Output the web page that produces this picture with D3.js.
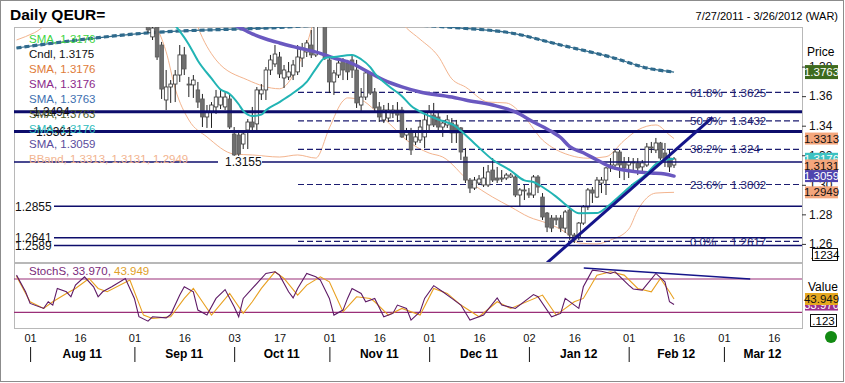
<!DOCTYPE html>
<html>
<head>
<meta charset="utf-8">
<script src="https://cdn.jsdelivr.net/npm/d3@7"></script>
<style>
  body { margin: 0; background: #fff; }
  text { font-family: 'Liberation Sans', Arial, sans-serif; }
</style>
</head>
<body>
<svg id="chart" width="845" height="383"></svg>
<script>
// ---- data ----
const rangeStart = '2011-07-27';
const rangeEnd = '2012-03-26';

const candleStart = '2011-09-06'; // first candle that shows inside the price panel
const opens = [1.4116,1.4001,1.4068,1.3946,1.3574,1.3662,1.3682,1.3743,1.3879,1.3682,1.3676,1.3642,1.3581,1.3459,1.3493,1.3527,1.3540,1.3527,1.3581,1.3344,1.3337,1.3276,1.3371,1.3425,1.3412,1.3615,1.3642,1.3777,1.3818,1.3865,1.3723,1.3730,1.3743,1.3764,1.3858,1.3899,1.3946,1.3879,1.4150,1.4120,1.3845,1.3696,1.3743,1.3845,1.3824,1.3845,1.3777,1.3540,1.3594,1.3757,1.3628,1.3527,1.3439,1.3452,1.3486,1.3506,1.3506,1.3337,1.3357,1.3290,1.3303,1.3324,1.3405,1.3472,1.3459,1.3391,1.3405,1.3418,1.3405,1.3385,1.3188,1.3032,1.2978,1.3012,1.2999,1.2999,1.3100,1.3046,1.3039,1.3046,1.3053,1.3053,1.2931,1.2965,1.2944,1.2931,1.3053,1.2917,1.2809,1.2775,1.2775,1.2775,1.2707,1.2829,1.2660,1.2647,1.2741,1.2850,1.2965,1.2917,1.3012,1.3032,1.3114,1.3134,1.3222,1.3154,1.3134,1.3154,1.3148,1.3121,1.3134,1.3256,1.3236,1.3283,1.3215,1.3181,1.3134];
const highs = [1.4170,1.4102,1.4116,1.3967,1.3777,1.3709,1.3777,1.3946,1.3933,1.3730,1.3743,1.3696,1.3615,1.3540,1.3560,1.3642,1.3648,1.3628,1.3615,1.3391,1.3371,1.3371,1.3445,1.3527,1.3662,1.3682,1.3797,1.3879,1.3946,1.3899,1.3811,1.3831,1.3845,1.3946,1.3960,1.3980,1.4048,1.4190,1.4220,1.4160,1.3865,1.3777,1.3845,1.3858,1.3845,1.3879,1.3845,1.3655,1.3777,1.3764,1.3655,1.3560,1.3540,1.3554,1.3540,1.3560,1.3527,1.3385,1.3385,1.3371,1.3439,1.3493,1.3540,1.3554,1.3486,1.3439,1.3472,1.3452,1.3439,1.3391,1.3249,1.3046,1.3053,1.3066,1.3121,1.3134,1.3181,1.3121,1.3100,1.3080,1.3080,1.3066,1.2978,1.2999,1.2978,1.3066,1.3066,1.2944,1.2816,1.2795,1.2795,1.2795,1.2829,1.2843,1.2674,1.2748,1.2863,1.2978,1.2985,1.3053,1.3053,1.3121,1.3181,1.3236,1.3236,1.3188,1.3188,1.3181,1.3181,1.3168,1.3283,1.3290,1.3317,1.3290,1.3283,1.3236,1.3188];
const lows = [1.4028,1.3980,1.3845,1.3581,1.3506,1.3554,1.3560,1.3696,1.3743,1.3594,1.3588,1.3520,1.3391,1.3385,1.3385,1.3479,1.3513,1.3506,1.3378,1.3154,1.3168,1.3242,1.3242,1.3371,1.3371,1.3574,1.3574,1.3743,1.3797,1.3723,1.3655,1.3709,1.3709,1.3743,1.3797,1.3865,1.3858,1.3865,1.4080,1.3845,1.3621,1.3608,1.3723,1.3709,1.3709,1.3723,1.3520,1.3486,1.3574,1.3608,1.3493,1.3425,1.3418,1.3425,1.3452,1.3425,1.3317,1.3303,1.3202,1.3269,1.3283,1.3249,1.3357,1.3391,1.3357,1.3324,1.3385,1.3283,1.3283,1.3168,1.3012,1.2944,1.2965,1.2999,1.2985,1.2985,1.3019,1.3012,1.3019,1.3032,1.3046,1.2917,1.2850,1.2897,1.2911,1.2911,1.2944,1.2762,1.2680,1.2680,1.2728,1.2680,1.2674,1.2626,1.2606,1.2626,1.2728,1.2829,1.2877,1.2911,1.2944,1.2931,1.3087,1.3100,1.3046,1.3032,1.3046,1.3087,1.3066,1.3087,1.3121,1.3215,1.3215,1.3168,1.3121,1.3087,1.3114];
const closes = [1.4048,1.4061,1.3865,1.3648,1.3662,1.3682,1.3743,1.3879,1.3784,1.3676,1.3709,1.3560,1.3459,1.3493,1.3540,1.3594,1.3594,1.3594,1.3391,1.3202,1.3208,1.3344,1.3425,1.3391,1.3642,1.3642,1.3777,1.3845,1.3885,1.3750,1.3777,1.3764,1.3811,1.3865,1.3926,1.3960,1.3879,1.4150,1.4140,1.3858,1.3696,1.3757,1.3824,1.3777,1.3764,1.3777,1.3554,1.3594,1.3757,1.3621,1.3520,1.3459,1.3506,1.3506,1.3506,1.3472,1.3324,1.3357,1.3236,1.3324,1.3391,1.3439,1.3493,1.3405,1.3391,1.3418,1.3439,1.3351,1.3351,1.3222,1.3032,1.2978,1.3032,1.3039,1.3046,1.3087,1.3032,1.3032,1.3046,1.3066,1.3066,1.2931,1.2965,1.2958,1.2931,1.3053,1.2985,1.2782,1.2714,1.2707,1.2762,1.2707,1.2816,1.2660,1.2626,1.2741,1.2850,1.2965,1.2944,1.3032,1.3032,1.3114,1.3134,1.3222,1.3134,1.3114,1.3154,1.3148,1.3114,1.3148,1.3256,1.3249,1.3283,1.3181,1.3168,1.3121,1.3175];

// moving averages, read at trading-day offsets from rangeStart
const smaFastDay = [30,33,36,38,40,43,45,47,49,50,52,54,55,58,61,64,66,68,70,74,76,78,79,82,85,87,90,93,97,98,101,105,109,112,114,116,119,122,124,128,130,133,136,139,141,143,145];
const smaFastVal = [1.4300,1.4150,1.4040,1.3950,1.3840,1.3720,1.3645,1.3615,1.3545,1.3500,1.3466,1.3475,1.3505,1.3560,1.3621,1.3696,1.3785,1.3858,1.3865,1.3879,1.3850,1.3797,1.3755,1.3670,1.3600,1.3535,1.3480,1.3442,1.3392,1.3365,1.3280,1.3170,1.3095,1.3030,1.3019,1.2985,1.2920,1.2843,1.2808,1.2809,1.2845,1.2925,1.3005,1.3075,1.3140,1.3168,1.3176];
const smaMidDay = [44,49,52,55,58,62,67,70,73,78,81,85,89,96,99,105,110,114,118,120,122,125,128,131,134,137,140,143,145];
const smaMidVal = [1.4150,1.4068,1.4021,1.3987,1.3960,1.3928,1.3890,1.3858,1.3833,1.3757,1.3709,1.3663,1.3628,1.3594,1.3574,1.3540,1.3493,1.3425,1.3360,1.3320,1.3258,1.3217,1.3168,1.3122,1.3100,1.3087,1.3080,1.3073,1.3059];
const smaLongDay = [0,29,55,77,98,109,120,131,140,145];
const smaLongVal = [1.3926,1.4028,1.4061,1.4090,1.4061,1.4028,1.3946,1.3865,1.3784,1.3763];
const bbUpperDay = [38,40,44,51,58,62,64,66,70,80,86,89,93,96,99,104,108,112,116,118,122,126,130,134,137,141,144,145];
const bbUpperVal = [1.4250,1.4068,1.3845,1.3709,1.3650,1.3800,1.3950,1.4150,1.4350,1.4300,1.4061,1.3985,1.3870,1.3717,1.3662,1.3560,1.3554,1.3459,1.3303,1.3256,1.3200,1.3180,1.3190,1.3300,1.3371,1.3405,1.3337,1.3313];
const bbLowerDay = [0,4,8,30,33,35,38,42,48,52,58,62,66,69,72,73,76,79,83,86,91,94,100,105,109,113,117,121,124,128,131,135,137,141,145];
const bbLowerVal = [1.3980,1.4030,1.4100,1.4080,1.3900,1.3650,1.3439,1.3324,1.3208,1.3202,1.3188,1.3202,1.3181,1.3385,1.3568,1.3588,1.3574,1.3506,1.3391,1.3303,1.3215,1.3188,1.3019,1.2917,1.2850,1.2782,1.2740,1.2680,1.2606,1.2600,1.2626,1.2700,1.2829,1.2944,1.2949];

// support / resistance and fibonacci levels
const levels = [1.3494, 1.3361, 1.3155, 1.2855, 1.2641, 1.2589];
const fibPct = ['61.8%', '50.0%', '38.2%', '23.6%', '0.0%'];
const fibVal = [1.3625, 1.3432, 1.324, 1.3002, 1.2617];
const trendDay = [117, 153.5];
const trendVal = [1.2472, 1.3457];

// slow stochastic
const stochKDay = [0,2,3,6,7,8,9,11,12,13,15,17,18,19,21,24,26,27,29,30,33,34,36,37,39,40,42,44,46,48,49,50,52,55,57,58,60,61,62,64,66,67,69,70,72,73,74,76,77,79,81,83,84,86,87,89,90,92,94,96,98,100,103,106,107,110,114,115,118,120,121,124,125,127,129,131,132,135,136,138,141,143,144,145];
const stochKVal = [87,57,36,27,39,33,63,57,48,69,84,66,48,57,66,81,45,12,4,12,10,16,51,66,57,24,15,45,61,30,12,45,63,90,93,87,57,46,63,90,84,78,45,15,24,45,63,54,39,45,12,18,33,27,6,21,45,68,57,45,33,6,15,46,33,27,52,48,12,18,45,27,66,96,94,90,93,69,62,60,90,75,39,33.97];
const stochDDay = [0,3,6,8,11,13,16,18,20,25,28,30,34,37,39,41,43,47,50,52,54,57,59,62,64,67,69,72,75,78,79,82,85,89,92,95,98,102,106,109,116,119,123,125,128,131,134,137,140,142,144,145];
const stochDVal = [85,39,27,39,54,63,81,63,57,78,15,9,12,45,63,39,15,54,18,39,63,93,81,51,69,84,75,21,48,45,39,15,27,15,63,54,33,12,39,27,51,15,39,45,87,93,87,63,57,81,57,43.949];
const stochBands = [80, 20];
const stochTrendDay = [125.1, 161.8];
const stochTrendVal = [99.8, 80];

// axis labels
const priceTicks = [1.26, 1.28, 1.30, 1.32, 1.34, 1.36, 1.38];
const dayTicks = ['2011-08-01','2011-08-16','2011-09-01','2011-09-16','2011-10-03','2011-10-17','2011-11-01','2011-11-16','2011-12-01','2011-12-16','2012-01-02','2012-01-16','2012-02-01','2012-02-16','2012-03-01','2012-03-16'];
const monthStarts = ['2011-08-01','2011-09-01','2011-10-03','2011-11-01','2011-12-01','2012-01-02','2012-02-01','2012-03-01'];
const monthNames = ['Aug 11','Sep 11','Oct 11','Nov 11','Dec 11','Jan 12','Feb 12','Mar 12'];

const legendText = ['SMA, 1.3176','Cndl, 1.3175','SMA, 1.3176','SMA, 1.3176','SMA, 1.3763','SMA, 1.3763','SMA, 1.3176','SMA, 1.3059','BBand, 1.3313, 1.3131, 1.2949'];
const legendColor = ['#3ed43e','#111','#e07b39','#8b2a8b','#3d6fb0','#4b5a2a','#2fbcbc','#5a4c9c','#f2b48f'];

// ---- setup ----
const parse = d3.timeParse('%Y-%m-%d');
const days = d3.timeDay.range(parse(rangeStart), d3.timeDay.offset(parse(rangeEnd), 1))
  .filter(d => d.getDay() !== 0 && d.getDay() !== 6);
const dayOf = s => { const t = +parse(s); return days.findIndex(d => +d === t); };

const svg = d3.select('#chart');
const P = {l: 14, r: 802, t: 27, b: 262};
const S = {t: 263, b: 328};

const x = d3.scaleLinear().domain([0, days.length - 1]).range([16.5, 801]);
const y = d3.scaleLinear().domain([1.26, 1.34]).range([243.9, 125.7]);
const ys = d3.scaleLinear().domain([0, 100]).range([323.4, 267.9]);

const defs = svg.append('defs');
defs.append('clipPath').attr('id', 'clipP').append('rect')
  .attr('x', P.l).attr('y', P.t).attr('width', P.r - P.l).attr('height', P.b - P.t);
defs.append('clipPath').attr('id', 'clipS').append('rect')
  .attr('x', P.l).attr('y', S.t).attr('width', P.r - P.l).attr('height', S.b - S.t);

// frame + title
svg.append('rect').attr('x', 0.5).attr('y', 0.5).attr('width', 843).attr('height', 381)
  .attr('fill', '#fff').attr('stroke', '#8c8c8c');
svg.append('text').attr('x', 10).attr('y', 20).attr('font-size', 15.5).attr('font-weight', 'bold')
  .text('Daily QEUR=');
svg.append('text').attr('x', 838).attr('y', 20).attr('font-size', 11).attr('text-anchor', 'end')
  .text('7/27/2011 - 3/26/2012 (WAR)');

// panels
svg.append('rect').attr('x', P.l + 0.5).attr('y', P.t + 0.5).attr('width', P.r - P.l).attr('height', P.b - P.t)
  .attr('fill', '#fff').attr('stroke', '#b8b8b8');
svg.append('rect').attr('x', P.l + 0.5).attr('y', S.t + 0.5).attr('width', P.r - P.l).attr('height', S.b - S.t)
  .attr('fill', '#fff').attr('stroke', '#b8b8b8');

const main = svg.append('g').attr('clip-path', 'url(#clipP)');
const pts = (ds, vs) => ds.map((d, i) => [d, vs[i]]);
const smooth = d3.line().x(d => x(d[0])).y(d => y(d[1])).curve(d3.curveMonotoneX);

// bollinger bands
[[bbUpperDay, bbUpperVal], [bbLowerDay, bbLowerVal]].forEach(([ds, vs]) => {
  main.append('path').attr('d', smooth(pts(ds, vs)))
    .attr('fill', 'none').attr('stroke', '#f3b48e').attr('stroke-width', 1);
});

// fibonacci dashed levels
fibVal.forEach(v => {
  main.append('line').attr('x1', 298).attr('x2', P.r).attr('y1', y(v)).attr('y2', y(v))
    .attr('stroke', '#1c1c70').attr('stroke-width', 1.2).attr('stroke-dasharray', '6,3');
});

// long SMA (dashed, thick)
const longPath = smooth(pts(smaLongDay, smaLongVal));
main.append('path').attr('d', longPath).attr('fill', 'none').attr('stroke', '#336e8e').attr('stroke-width', 1.2);
main.append('path').attr('d', longPath).attr('fill', 'none').attr('stroke', '#2f6a8c')
  .attr('stroke-width', 3.2).attr('stroke-dasharray', '5,3');

// candles
const c0 = dayOf(candleStart);
const candles = opens.map((o, i) => ({i: c0 + i, o, h: highs[i], l: lows[i], c: closes[i]}));
const cg = main.append('g');
cg.selectAll('line').data(candles).join('line')
  .attr('x1', d => x(d.i)).attr('x2', d => x(d.i))
  .attr('y1', d => y(d.h)).attr('y2', d => y(d.l))
  .attr('stroke', '#222').attr('stroke-width', 1);
cg.selectAll('rect').data(candles).join('rect')
  .attr('x', d => x(d.i) - 1.8).attr('width', 3.6)
  .attr('y', d => y(Math.max(d.o, d.c)))
  .attr('height', d => Math.max(1, Math.abs(y(d.o) - y(d.c))))
  .attr('fill', d => d.c >= d.o ? '#fff' : '#6f6f6f')
  .attr('stroke', d => d.c >= d.o ? '#333' : '#5a5a5a').attr('stroke-width', 0.8);

// solid support / resistance lines
const levelWidth = [3, 3, 1.5, 1.5, 1.5, 1.5];
const levelX0 = [P.l, P.l, P.l, 54, 54, 54];
levels.forEach((v, k) => {
  main.append('line').attr('x1', levelX0[k]).attr('x2', P.r).attr('y1', y(v)).attr('y2', y(v))
    .attr('stroke', '#0d0d6b').attr('stroke-width', levelWidth[k]);
});

// mid + fast SMAs
main.append('path').attr('d', smooth(pts(smaMidDay, smaMidVal)))
  .attr('fill', 'none').attr('stroke', '#6a58c0').attr('stroke-width', 3.5).attr('stroke-linecap', 'round');
main.append('path').attr('d', smooth(pts(smaFastDay, smaFastVal)))
  .attr('fill', 'none').attr('stroke', '#22b4b4').attr('stroke-width', 2);

// trend line
main.append('line')
  .attr('x1', x(trendDay[0])).attr('y1', y(trendVal[0]))
  .attr('x2', x(trendDay[1])).attr('y2', y(trendVal[1]))
  .attr('stroke', '#15158a').attr('stroke-width', 3);

// level labels
const labelX = [33, 36, 225, 15, 15, 15];
levels.forEach((v, k) => {
  if (k === 2) {
    svg.append('rect').attr('x', 218).attr('y', y(v) - 6).attr('width', 44).attr('height', 12).attr('fill', '#fff');
  }
  svg.append('text').attr('x', labelX[k]).attr('y', y(v)).attr('dy', '0.36em')
    .attr('font-size', 12).attr('fill', '#111').text(d3.format('.4f')(v));
});

// fib labels
fibVal.forEach((v, k) => {
  svg.append('text').attr('x', 690).attr('y', y(v)).attr('dy', '0.36em')
    .attr('font-size', 11.5).attr('fill', '#1c1c70').text(fibPct[k]);
  svg.append('text').attr('x', 731).attr('y', y(v)).attr('dy', '0.36em')
    .attr('font-size', 11.5).attr('fill', '#1c1c70').text(String(v));
});

// legend
legendText.forEach((t, k) => {
  svg.append('text').attr('x', 29).attr('y', 39 + k * 15).attr('dy', '0.36em')
    .attr('font-size', 11.5).attr('fill', legendColor[k]).text(t);
});

// price axis
const ay = svg.append('g').attr('transform', `translate(${P.r},0)`)
  .call(d3.axisRight(y).tickValues(priceTicks).tickSize(4).tickPadding(3).tickFormat(d3.format('.2f')));
ay.select('.domain').remove();
ay.selectAll('text').attr('font-size', 12).attr('fill', '#111').style('font-family', "'Liberation Sans', Arial, sans-serif");
ay.selectAll('line').attr('stroke', '#333');

svg.append('text').attr('x', 807).attr('y', 56).attr('font-size', 12).text('Price');

// right value boxes
const priceBoxes = [
  {v: 1.3763, bg: '#3e6b1e', fg: '#fff', h: 14},
  {v: 1.3313, bg: '#f4a67c', fg: '#111', h: 12},
  {v: 1.3176, bg: '#3cc2c2', fg: '#fff', h: 12},
  {v: 1.2949, bg: '#f4a67c', fg: '#111', h: 12},
  {v: 1.3131, bg: '#f4a67c', fg: '#111', h: 12},
  {v: 1.3059, bg: '#4f44ae', fg: '#fff', h: 12}
];
priceBoxes.forEach(b => {
  const cy = y(b.v);
  svg.append('rect').attr('x', 805).attr('y', cy - b.h / 2).attr('width', 33).attr('height', b.h).attr('fill', b.bg);
  svg.append('text').attr('x', 821.5).attr('y', cy).attr('dy', '0.36em').attr('text-anchor', 'middle')
    .attr('font-size', 11.5).attr('fill', b.fg).text(d3.format('.4f')(b.v));
});
svg.append('rect').attr('x', 812.5).attr('y', 248.5).attr('width', 25).attr('height', 12)
  .attr('fill', '#fff').attr('stroke', '#111');
svg.append('text').attr('x', 825).attr('y', 254.5).attr('dy', '0.36em').attr('text-anchor', 'middle')
  .attr('font-size', 11.5).text('.1234');

// ---- stochastic panel ----
const st = svg.append('g').attr('clip-path', 'url(#clipS)');
stochBands.forEach(v => {
  st.append('line').attr('x1', P.l).attr('x2', P.r).attr('y1', ys(v)).attr('y2', ys(v))
    .attr('stroke', '#9a2f78').attr('stroke-width', 1.2);
});
const sline = d3.line().x(d => x(d[0])).y(d => ys(d[1]));
st.append('path').attr('d', sline(pts(stochDDay, stochDVal)))
  .attr('fill', 'none').attr('stroke', '#e8a020').attr('stroke-width', 1.1);
st.append('path').attr('d', sline(pts(stochKDay, stochKVal)))
  .attr('fill', 'none').attr('stroke', '#5e1a66').attr('stroke-width', 1.1);
st.append('line')
  .attr('x1', x(stochTrendDay[0])).attr('y1', ys(stochTrendVal[0]))
  .attr('x2', x(stochTrendDay[1])).attr('y2', ys(stochTrendVal[1]))
  .attr('stroke', '#15158a').attr('stroke-width', 1.5);

const sl = svg.append('text').attr('x', 29).attr('y', 271).attr('dy', '0.36em').attr('font-size', 11.5);
sl.append('tspan').attr('fill', '#7a2a7a').text('StochS, 33.970, ');
sl.append('tspan').attr('fill', '#e0a028').text('43.949');

svg.append('text').attr('x', 808).attr('y', 287).attr('dy', '0.36em').attr('font-size', 12).text('Value');
[{v: 33.97, bg: '#9c2f8c', fg: '#fff'}, {v: 43.949, bg: '#e6a820', fg: '#111'}].forEach(b => {
  const cy = ys(b.v);
  svg.append('rect').attr('x', 805).attr('y', cy - 6).attr('width', 33).attr('height', 12).attr('fill', b.bg);
  svg.append('text').attr('x', 821.5).attr('y', cy).attr('dy', '0.36em').attr('text-anchor', 'middle')
    .attr('font-size', 11.5).attr('fill', b.fg).text(d3.format('.3f')(b.v));
});
svg.append('rect').attr('x', 810.5).attr('y', 314.5).attr('width', 26).attr('height', 12)
  .attr('fill', '#fff').attr('stroke', '#111');
svg.append('text').attr('x', 823.5).attr('y', 320.5).attr('dy', '0.36em').attr('text-anchor', 'middle')
  .attr('font-size', 11.5).text('.123');

svg.append('circle').attr('cx', 831).attr('cy', 337).attr('r', 6).attr('fill', '#128a12');

// ---- time axis ----
const ax = svg.append('g').attr('transform', 'translate(0,330)')
  .call(d3.axisBottom(x).tickValues(dayTicks.map(dayOf)).tickSize(0).tickPadding(4)
    .tickFormat(i => d3.timeFormat('%d')(days[i])));
ax.select('.domain').remove();
ax.selectAll('text').attr('font-size', 11).attr('fill', '#111').style('font-family', "'Liberation Sans', Arial, sans-serif");

const mIdx = monthStarts.map(dayOf);
mIdx.forEach((m, k) => {
  svg.append('line').attr('x1', x(m) + 0.5).attr('x2', x(m) + 0.5).attr('y1', 347).attr('y2', 362)
    .attr('stroke', '#111').attr('stroke-width', 1);
  const next = k + 1 < mIdx.length ? mIdx[k + 1] : days.length - 1;
  svg.append('text').attr('x', (x(m) + x(next)) / 2).attr('y', 358).attr('text-anchor', 'middle')
    .attr('font-size', 12).attr('font-weight', 'bold').text(monthNames[k]);
});
</script>
</body>
</html>
